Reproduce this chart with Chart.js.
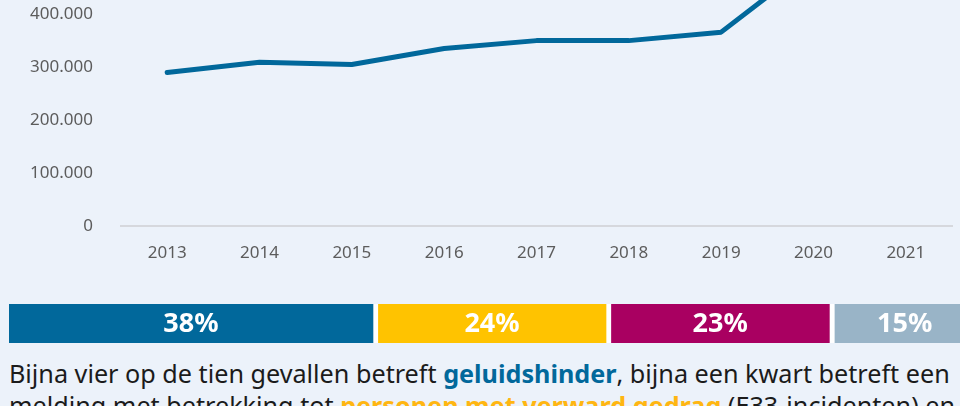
<!DOCTYPE html>
<html lang="nl">
<head>
<meta charset="utf-8">
<script src="https://cdn.jsdelivr.net/npm/chart.js@4.4.1/dist/chart.umd.min.js"></script>
<style>
html,body{margin:0;padding:0;}
body{width:960px;height:406px;overflow:hidden;position:relative;background:#ecf2fa;font-family:"Noto Sans",sans-serif;}
#lineWrap{position:absolute;left:0;top:-122px;width:960px;height:402px;}
#barWrap{position:absolute;left:0;top:304px;width:990px;height:39px;}
.txt{position:absolute;left:9px;white-space:nowrap;font-size:25.2px;color:#1b1b1b;line-height:32px;}
.blue{color:#01689b;font-weight:bold;}
.orange{color:#ffb612;font-weight:bold;}
</style>
</head>
<body>
<div id="lineWrap"><canvas id="lineChart"></canvas></div>
<div id="barWrap"><canvas id="barChart"></canvas></div>
<div class="txt" id="line1" style="top:357px">Bijna vier op de tien gevallen betreft <span class="blue">geluidshinder</span>, bijna een kwart betreft een</div>
<div class="txt" id="line2" style="top:389px">melding met betrekking tot <span class="orange">personen met verward gedrag</span> (E33-incidenten) en</div>
<script>
// jaren en aantallen meldingen (bovenkant van de grafiek valt buiten beeld)
const years = ['2013','2014','2015','2016','2017','2018','2019','2020','2021'];
const meldingen = [290000, 309000, 305000, 335000, 350000, 350000, 366000, 500000, 470000];
const yMax = 600000;
const yStep = 100000;

// verdeling van de meldingen
const shareNames = ['geluidshinder','personen met verward gedrag','overig A','overig B'];
const shares = [38, 24, 23, 15];
const shareColors = ['#01689b','#ffc300','#a90061','#99b4c7'];

const BLUE = '#01689b';
const TICK = '#5c5c5c';

function fmt(v){
  return String(v).replace(/\B(?=(\d{3})+(?!\d))/g, '.');
}

new Chart(document.getElementById('lineChart'), {
  type: 'line',
  data: { labels: years, datasets: [{ data: meldingen, borderColor: BLUE, borderWidth: 5,
    pointRadius: 0, tension: 0, fill: false, borderJoinStyle: 'round', borderCapStyle: 'round' }] },
  options: {
    responsive: true, maintainAspectRatio: false, animation: false,
    layout: { padding: { right: 8 } },
    plugins: { legend: { display: false }, tooltip: { enabled: false } },
    scales: {
      x: {
        offset: true,
        grid: { display: false, offset: true },
        border: { display: true, color: '#d6d8dd', width: 2 },
        ticks: { color: TICK, font: { family: 'Noto Sans', size: 17 }, padding: 9 },
        afterFit: s => { s.height = 54; }
      },
      y: {
        min: 0, max: yMax,
        grid: { display: false },
        border: { display: false },
        ticks: { stepSize: yStep, color: TICK, font: { family: 'Noto Sans', size: 17 }, padding: 20,
          callback: v => fmt(v) },
        afterFit: s => { s.width = 121; }
      }
    }
  }
});

const pctLabels = {
  id: 'pctLabels',
  afterDatasetsDraw(chart){
    const ctx = chart.ctx;
    ctx.save();
    ctx.fillStyle = '#ffffff';
    ctx.font = 'bold 27px "Noto Sans"';
    ctx.textAlign = 'center';
    ctx.textBaseline = 'middle';
    chart.data.datasets.forEach((ds, i) => {
      const el = chart.getDatasetMeta(i).data[0];
      const cx = (el.base + el.x - 5) / 2;
      ctx.fillText(ds.data[0] + '%', cx, el.y + 1);
    });
    ctx.restore();
  }
};

new Chart(document.getElementById('barChart'), {
  type: 'bar',
  data: {
    labels: ['aandeel'],
    datasets: shares.map((v, i) => ({
      label: shareNames[i], data: [v], backgroundColor: shareColors[i],
      borderColor: '#ffffff', borderWidth: { top: 0, right: 5, bottom: 0, left: 0 },
      barPercentage: 1, categoryPercentage: 1
    }))
  },
  options: {
    indexAxis: 'y', responsive: true, maintainAspectRatio: false, animation: false,
    layout: { padding: { left: 9, right: 10 } },
    plugins: { legend: { display: false }, tooltip: { enabled: false } },
    scales: {
      x: { stacked: true, min: 0, max: 100, display: false },
      y: { stacked: true, display: false }
    }
  },
  plugins: [pctLabels]
});
</script>
</body>
</html>
